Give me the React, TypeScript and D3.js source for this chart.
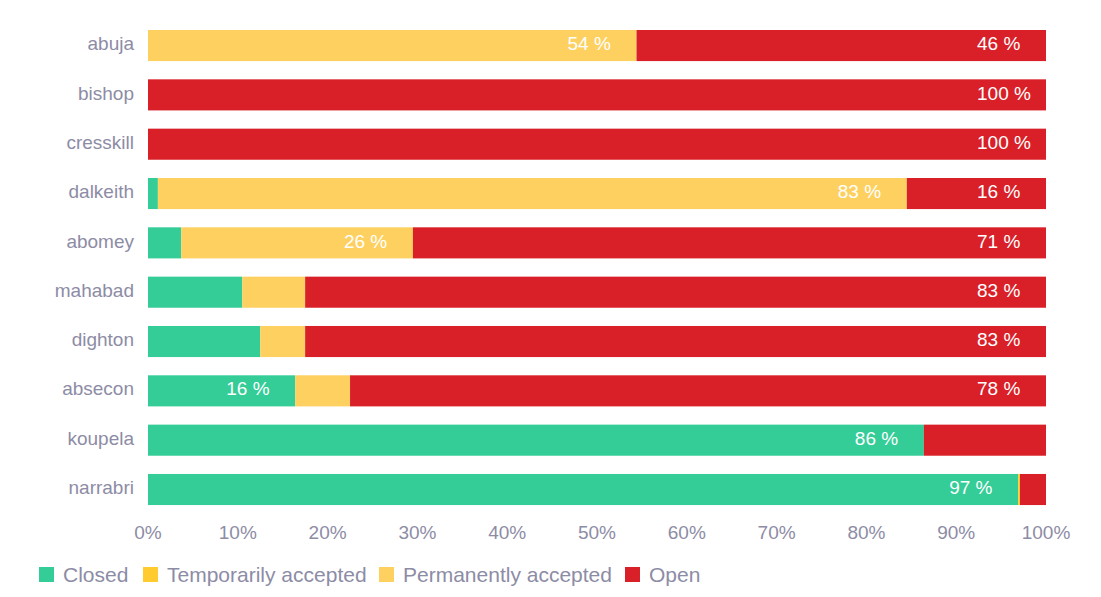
import React from "react";
import * as d3 from "d3";

const categories = ["abuja", "bishop", "cresskill", "dalkeith", "abomey", "mahabad", "dighton", "absecon", "koupela", "narrabri"];
const seriesNames = ["Closed", "Temporarily accepted", "Permanently accepted", "Open"];
const closed = [0, 0, 0, 1.1, 3.7, 10.5, 12.5, 16.4, 86.4, 96.9];
const tempAccepted = [0, 0, 0, 0, 0, 0, 0, 0, 0, 0.2];
const permAccepted = [54.4, 0, 0, 83.4, 25.8, 7.0, 5.0, 6.1, 0, 0];
const open = [45.6, 100, 100, 15.5, 70.5, 82.5, 82.5, 77.5, 13.6, 2.9];
const xTicks = [0, 10, 20, 30, 40, 50, 60, 70, 80, 90, 100];
const colors = ["#34cc97", "#ffcb2f", "#fdd05f", "#d91f27"];

const W = 1101;
const H = 597;
const FONT = "'Liberation Sans', Arial, sans-serif";
const TEXT = "#8d8ca5";

export default function App() {
  const x = d3.scaleLinear().domain([0, 100]).range([148, 1046]);
  const y = d3.scaleBand<string>().domain(categories).range([11.75, 523.3]).padding(0.37);

  const rows = categories.map((c, i) => ({
    cat: c,
    closed: closed[i],
    temp: tempAccepted[i],
    perm: permAccepted[i],
    open: open[i],
  }));
  const keys = ["closed", "temp", "perm", "open"];
  const stacked = d3.stack<any>().keys(keys)(rows);

  const legendX = [39, 143, 379, 625];

  return (
    <svg width={W} height={H} style={{ position: "absolute", left: 0, top: 0 }} fontFamily={FONT}>
      <rect width={W} height={H} fill="#fff" />
      {stacked.map((s, si) => (
        <g key={si} fill={colors[si]}>
          {s.map((d, i) => {
            const w = x(d[1]) - x(d[0]);
            if (w <= 0) return null;
            return (
              <rect key={i} x={x(d[0])} y={y(categories[i])} width={w} height={y.bandwidth()} />
            );
          })}
        </g>
      ))}
      {stacked.map((s, si) => (
        <g key={"l" + si}>
          {s.map((d, i) => {
            const v = d[1] - d[0];
            if (v < 15) return null;
            return (
              <text
                key={i}
                x={x(d[1]) - 69}
                y={(y(categories[i]) as number) + y.bandwidth() / 2 - 2}
                dy="0.35em"
                fill="#fff"
                fontSize={19}
              >
                {Math.round(v) + " %"}
              </text>
            );
          })}
        </g>
      ))}
      {categories.map((c) => (
        <text
          key={c}
          x={134}
          y={(y(c) as number) + y.bandwidth() / 2 - 2}
          dy="0.35em"
          textAnchor="end"
          fill={TEXT}
          fontSize={19}
        >
          {c}
        </text>
      ))}
      {xTicks.map((t) => (
        <text key={t} x={x(t)} y={532} dy="0.35em" textAnchor="middle" fill={TEXT} fontSize={19}>
          {t + "%"}
        </text>
      ))}
      {seriesNames.map((n, i) => (
        <g key={n}>
          <rect x={legendX[i]} y={567} width={15} height={15} fill={colors[i]} />
          <text x={legendX[i] + 24} y={575} dy="0.35em" fill={TEXT} fontSize={21}>
            {n}
          </text>
        </g>
      ))}
    </svg>
  );
}
